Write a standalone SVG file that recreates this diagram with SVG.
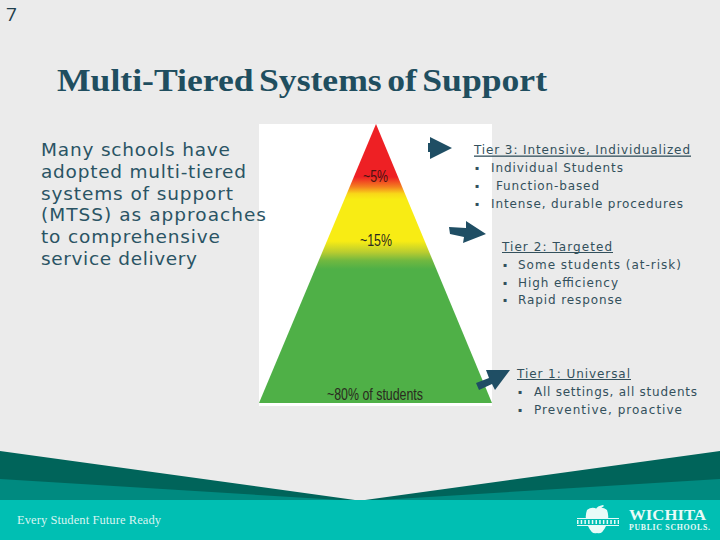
<svg xmlns="http://www.w3.org/2000/svg" width="720" height="540" viewBox="0 0 720 540">
<style>
.body{font-family:"DejaVu Sans",Verdana,sans-serif;font-size:18.5px;fill:#2a5464}
.tier{font-family:"DejaVu Sans",Verdana,sans-serif;font-size:12px;fill:#33505c}
.bul{font-size:6px}
.pct{font-family:"Liberation Sans",Arial,sans-serif;fill:#2a2a20;font-size:16px}
.arrow{fill:#1f4e64}
</style>
<defs>
<linearGradient id="pyr" gradientUnits="userSpaceOnUse" x1="0" y1="124" x2="0" y2="403">
<stop offset="0.19" stop-color="#ee2024"/>
<stop offset="0.225" stop-color="#f47f20"/>
<stop offset="0.25" stop-color="#f8d818"/>
<stop offset="0.27" stop-color="#f8ec14"/>
<stop offset="0.42" stop-color="#f8ec14"/>
<stop offset="0.46" stop-color="#b8cc30"/>
<stop offset="0.49" stop-color="#70b840"/>
<stop offset="0.52" stop-color="#4fb047"/>
<stop offset="1" stop-color="#4fb047"/>
</linearGradient>
</defs>
<rect width="720" height="540" fill="#ebebeb"/>
<text x="6" y="21" font-family="'Open Sans',sans-serif" font-size="19" fill="#1f3f4c">7</text>
<text x="57" y="91" font-family="'Liberation Serif',serif" font-weight="bold" font-size="31" word-spacing="-3" fill="#1f4e5f" textLength="490" lengthAdjust="spacingAndGlyphs">Multi-Tiered Systems of Support</text>
<g id="pyramid">
<rect x="259" y="124" width="233" height="282" fill="#fff"/>
<polygon points="376,124 492,403 259,403" fill="url(#pyr)"/>
<text class="pct" x="363" y="182" textLength="25" lengthAdjust="spacingAndGlyphs" style="fill:#4a1410">~5%</text>
<text class="pct" x="360" y="246" textLength="32" lengthAdjust="spacingAndGlyphs">~15%</text>
<text class="pct" x="327" y="400" textLength="96" lengthAdjust="spacingAndGlyphs">~80% of students</text>
</g>
<g id="intro" class="body">
<text x="41" y="156" textLength="189" lengthAdjust="spacing">Many schools have</text>
<text x="41" y="178" textLength="205" lengthAdjust="spacing">adopted multi-tiered</text>
<text x="41" y="199.5" textLength="192" lengthAdjust="spacing">systems of support</text>
<text x="41" y="221" textLength="225" lengthAdjust="spacing">(MTSS) as approaches</text>
<text x="41" y="243" textLength="179" lengthAdjust="spacing">to comprehensive</text>
<text x="41" y="264.5" textLength="156" lengthAdjust="spacing">service delivery</text>
</g>
<g id="connectors" class="arrow">
<polygon points="428,143 430,143 430,137 452,148 430,159 430,152 428,152"/>
<polygon points="449,227 466,228 466,221 486,234 463,243 464,237 450,234"/>
<polygon points="476,383 489,378 486,370 510,370 495,390 492,384 479,390"/>
</g>
<g id="tier3" class="tier">
<text x="474" y="154" textLength="216" lengthAdjust="spacing">Tier 3: Intensive, Individualized</text>
<rect x="474" y="155.5" width="217" height="1.3"/>
<text class="bul" x="475" y="170">▪</text>
<text x="491" y="172" textLength="132" lengthAdjust="spacing">Individual Students</text>
<text class="bul" x="475" y="188">▪</text>
<text x="496" y="190" textLength="103" lengthAdjust="spacing">Function-based</text>
<text class="bul" x="475" y="206">▪</text>
<text x="491" y="208" textLength="192" lengthAdjust="spacing">Intense, durable procedures</text>
</g>
<g id="tier2" class="tier">
<text x="502" y="251" textLength="110" lengthAdjust="spacing">Tier 2: Targeted</text>
<rect x="502" y="252" width="111" height="1"/>
<text class="bul" x="503" y="267">▪</text>
<text x="518" y="269" textLength="163" lengthAdjust="spacing">Some students (at-risk)</text>
<text class="bul" x="503" y="285">▪</text>
<text x="518" y="287" textLength="100" lengthAdjust="spacing">High efficiency</text>
<text class="bul" x="503" y="302">▪</text>
<text x="518" y="304" textLength="104" lengthAdjust="spacing">Rapid response</text>
</g>
<g id="tier1" class="tier">
<text x="517" y="378" textLength="113" lengthAdjust="spacing">Tier 1: Universal</text>
<rect x="517" y="379" width="114" height="1"/>
<text class="bul" x="518" y="394">▪</text>
<text x="534" y="396" textLength="163" lengthAdjust="spacing">All settings, all students</text>
<text class="bul" x="518" y="412">▪</text>
<text x="534" y="414" textLength="148" lengthAdjust="spacing">Preventive, proactive</text>
</g>
<g id="footer">
<polygon points="0,451 355,500 365,500 720,451 720,500 0,500" fill="#00645a"/>
<polygon points="0,479 340,500 380,500 720,479 720,500 0,500" fill="#008a80"/>
<rect y="500" width="720" height="40" fill="#00bfb3"/>
<text x="17" y="524" font-family="'Liberation Serif',serif" font-size="12.5" fill="#d8f5f2" textLength="144" lengthAdjust="spacing">Every Student Future Ready</text>
<g fill="#e8fbf8">
<path d="M587 510 Q592 506 597 509 Q602 506 607 510 Q610 518 606 526 Q602 535 597 533 Q592 535 588 526 Q584 518 587 510Z"/>
<path d="M596 509 Q597 506 603 505 L604 506 Q600 509 598 510Z"/>
<rect x="577" y="518" width="42" height="1"/>
<rect x="577" y="525" width="42" height="1"/>
</g>
<rect x="577" y="519" width="42" height="6" fill="#00bfb3"/>
<line x1="577" y1="522" x2="619" y2="522" stroke="#e8fbf8" stroke-width="4" stroke-dasharray="1.5 2.2"/>
<text x="629" y="519.5" font-family="'Liberation Serif',serif" font-weight="bold" font-size="15.5" fill="#e8fbf8" textLength="77" lengthAdjust="spacingAndGlyphs">WICHITA</text>
<text x="629" y="530" font-family="'Liberation Serif',serif" font-weight="bold" font-size="7.8" fill="#e8fbf8" textLength="81" lengthAdjust="spacing">PUBLIC SCHOOLS.</text>
</g>
</svg>
